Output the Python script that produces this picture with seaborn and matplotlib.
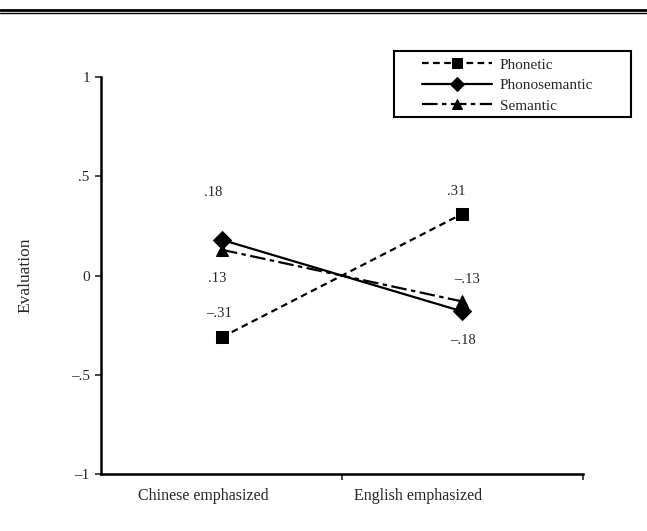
import pandas as pd
import matplotlib.pyplot as plt
from matplotlib.lines import Line2D
from matplotlib.patches import Rectangle
import seaborn as sns

sns.set_style("white")
plt.rcParams["font.family"] = ["Liberation Serif", "DejaVu Serif"]

# data
conditions = ["Chinese emphasized", "English emphasized"]
series = ["Phonetic", "Phonosemantic", "Semantic"]
phonetic = [-0.31, 0.31]
phonosemantic = [0.18, -0.18]
semantic = [0.13, -0.13]
ytick_values = [1, 0.5, 0, -0.5, -1]
ytick_labels = ["1", ".5", "0", "\u2013.5", "\u20131"]

rows = []
for name, vals in zip(series, [phonetic, phonosemantic, semantic]):
    for i, v in enumerate(vals):
        rows.append({"pos": i, "condition": conditions[i], "type": name, "value": v})
df = pd.DataFrame(rows)

fig = plt.figure(figsize=(6.47, 5.31), dpi=100)
ax = fig.add_axes([0.156, 0.107, 0.745, 0.748])

sns.lineplot(data=df, x="pos", y="value", hue="type", style="type",
             palette=["black"] * 3,
             markers={"Phonetic": "s", "Phonosemantic": "D", "Semantic": "^"},
             dashes={"Phonetic": (3, 2), "Phonosemantic": "", "Semantic": (7, 2, 2, 2)},
             markersize=9, linewidth=1.6, markeredgecolor="black",
             legend=True, ax=ax)

# value labels next to the points (offsets in points)
offsets = {("Phonetic", 0): (-2, 17), ("Phonetic", 1): (-4, 16),
           ("Phonosemantic", 0): (-6, 34), ("Phonosemantic", 1): (1, -21),
           ("Semantic", 0): (-3, -21), ("Semantic", 1): (4, 16)}
for _, r in df.iterrows():
    txt = f"{r['value']:.2f}".replace("0.", ".").replace("-", "\u2013")
    ax.annotate(txt, (r["pos"], r["value"]), xytext=offsets[(r["type"], r["pos"])],
                textcoords="offset points", ha="center", va="center", fontsize=10.5)

ax.set_xlim(-0.504, 1.504)
ax.set_ylim(-1, 1)
ax.set_yticks(ytick_values)
ax.set_yticklabels(ytick_labels, fontsize=11)
ax.set_xticks([0.5, 1.504])
ax.set_xticklabels(["", ""])
ax.set_xticks([-0.079, 0.817], minor=True)
ax.set_xticklabels(conditions, minor=True, fontsize=11.5)
ax.tick_params(axis="x", which="minor", length=0, pad=10)
ax.tick_params(axis="x", which="major", length=4, width=1.2, direction="out", bottom=True)
ax.tick_params(axis="y", length=4, width=1.2, direction="out", left=True, pad=4)
ax.set_xlabel("")
ax.set_ylabel("Evaluation", fontsize=12.5)
ax.yaxis.set_label_coords(-0.14, 0.5)

for s in ["top", "right"]:
    ax.spines[s].set_visible(False)
for s in ["left", "bottom"]:
    ax.spines[s].set_color("black")
    ax.spines[s].set_linewidth(1.8)

handles, labels = ax.get_legend_handles_labels()
ax.get_legend().remove()
leg = fig.legend(handles, labels, loc="upper left",
                 bbox_to_anchor=(0.652, 0.891),
                 frameon=False, fontsize=11, markerscale=0.8,
                 handlelength=4.6, borderpad=0, borderaxespad=0,
                 labelspacing=0.45, handletextpad=0.5)

# legend frame
fig.add_artist(Rectangle((0.609, 0.780), 0.366, 0.124, transform=fig.transFigure,
                         fill=False, edgecolor="black", lw=1.5))

# double rule at the top of the page
fig.add_artist(Line2D([0, 1], [0.982, 0.982], color="black", lw=2.0, transform=fig.transFigure))
fig.add_artist(Line2D([0, 1], [0.975, 0.975], color="black", lw=1.0, transform=fig.transFigure))

fig.savefig("out.png", dpi=100, facecolor="white")
